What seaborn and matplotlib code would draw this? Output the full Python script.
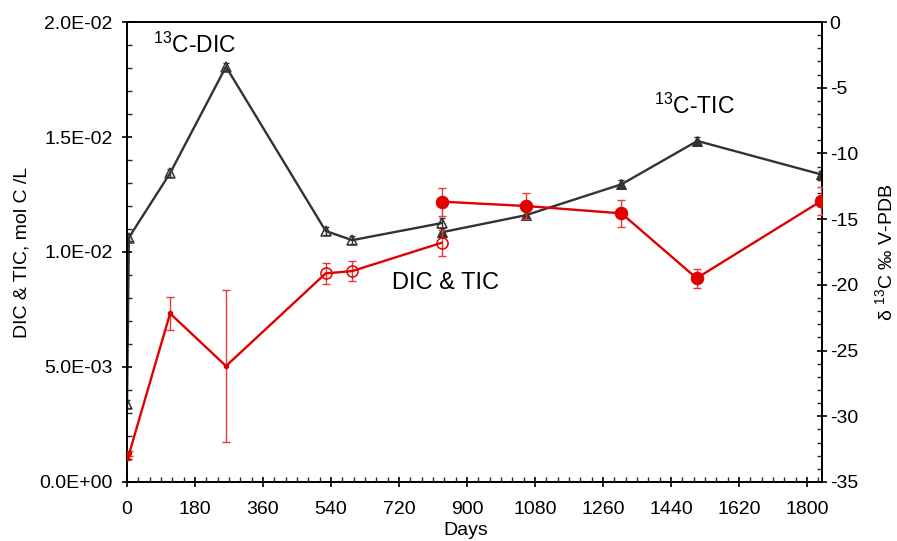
import matplotlib
matplotlib.use("Agg")
import matplotlib.pyplot as plt
import numpy as np
import pandas as pd
import seaborn as sns
from matplotlib.ticker import MultipleLocator, FuncFormatter

# DIC concentration (mol C / L), early sampling campaign
dic_days = [0, 6, 114, 262, 526, 596, 833]
dic_conc = [0.00103, 0.00125, 0.00733, 0.00504, 0.00907, 0.00917, 0.01040]
dic_conc_err = [0.00008, 0.00010, 0.00072, 0.00330, 0.00045, 0.00045, 0.00056]

# TIC concentration (mol C / L), later sampling campaign
tic_days = [833, 1056, 1309, 1508, 1838]
tic_conc = [0.01219, 0.01200, 0.01168, 0.00886, 0.01222]
tic_conc_err = [0.00061, 0.00058, 0.00058, 0.00042, 0.00060]

# delta 13C of DIC and TIC (per mil V-PDB)
d13c_dic_days = [0, 5, 114, 262, 526, 596, 833]
d13c_dic = [-29.1, -16.4, -11.5, -3.4, -15.9, -16.6, -15.3]
d13c_dic_err = [0.3, 0.3, 0.3, 0.3, 0.3, 0.3, 0.4]

d13c_tic_days = [833, 1056, 1309, 1510, 1838]
d13c_tic = [-16.0, -14.7, -12.35, -9.05, -11.6]
d13c_tic_err = [0.3, 0.3, 0.3, 0.3, 0.3]

RED = "#E00000"
RED_ERR = "#E63C3C"
DARK = "#333333"

sns.set_style("ticks")
plt.rcParams["font.family"] = ["Liberation Sans", "DejaVu Sans"]
plt.rcParams["mathtext.fontset"] = "custom"
plt.rcParams["mathtext.rm"] = "Liberation Sans"
plt.rcParams["mathtext.it"] = "Liberation Sans:italic"
plt.rcParams["text.color"] = "black"
plt.rcParams["axes.labelcolor"] = "black"

fig = plt.figure(figsize=(8.97, 5.41), dpi=100)
ax = fig.add_axes([0.1416, 0.1091, 0.7748, 0.8502])
ax2 = ax.twinx()

conc_dic = pd.DataFrame({"day": dic_days, "conc": dic_conc, "err": dic_conc_err})
conc_tic = pd.DataFrame({"day": tic_days, "conc": tic_conc, "err": tic_conc_err})
iso_dic = pd.DataFrame({"day": d13c_dic_days, "d13c": d13c_dic, "err": d13c_dic_err})
iso_tic = pd.DataFrame({"day": d13c_tic_days, "d13c": d13c_tic, "err": d13c_tic_err})

# isotope series on the right axis
ax2.errorbar(iso_dic["day"], iso_dic["d13c"], yerr=iso_dic["err"], fmt="none",
             ecolor=DARK, elinewidth=1, capsize=2.5, zorder=3)
sns.lineplot(data=iso_dic, x="day", y="d13c", ax=ax2, sort=False, estimator=None,
             color=DARK, lw=1.7, marker="^", markersize=6.5, markerfacecolor="none",
             markeredgecolor=DARK, markeredgewidth=1.1, zorder=3)
ax2.errorbar(iso_tic["day"], iso_tic["d13c"], yerr=iso_tic["err"], fmt="none",
             ecolor=DARK, elinewidth=1, capsize=2.5, zorder=3)
sns.lineplot(data=iso_tic, x="day", y="d13c", ax=ax2, sort=False, estimator=None,
             color=DARK, lw=1.7, marker="^", markersize=7.5, markerfacecolor=DARK,
             markeredgecolor=DARK, zorder=3)

# concentration series on the left axis (drawn above the isotope axis)
ax.set_zorder(ax2.get_zorder() + 1)
ax.patch.set_visible(False)
ax.errorbar(conc_dic["day"], conc_dic["conc"], yerr=conc_dic["err"], fmt="none",
            ecolor=RED_ERR, elinewidth=1, capsize=3, zorder=3)
sns.lineplot(data=conc_dic, x="day", y="conc", ax=ax, sort=False, estimator=None,
             color=RED, lw=1.7, zorder=3)
early = conc_dic.iloc[:4]
later = conc_dic.iloc[4:]
ax.plot(early["day"], early["conc"], ls="none", marker="o", markersize=3,
        color=RED, zorder=4)
ax.plot(later["day"], later["conc"], ls="none", marker="o", markersize=8,
        markerfacecolor="none", markeredgecolor=RED, markeredgewidth=1.1, zorder=4)
ax.errorbar(conc_tic["day"], conc_tic["conc"], yerr=conc_tic["err"], fmt="none",
            ecolor=RED_ERR, elinewidth=1, capsize=3, zorder=3)
sns.lineplot(data=conc_tic, x="day", y="conc", ax=ax, sort=False, estimator=None,
             color=RED, lw=1.7, marker="o", markersize=9, markerfacecolor=RED,
             markeredgecolor=RED, zorder=4)

# axes limits and ticks
ax.set_xlim(0, 1840)
ax.set_ylim(0, 0.02)
ax2.set_ylim(-35, 0)
ax.xaxis.set_major_locator(MultipleLocator(180))
ax.xaxis.set_minor_locator(MultipleLocator(30))
ax.yaxis.set_major_locator(MultipleLocator(0.005))
ax.yaxis.set_minor_locator(MultipleLocator(0.001))
ax.yaxis.set_major_formatter(FuncFormatter(lambda v, p: f"{v:.1E}"))
ax2.yaxis.set_major_locator(MultipleLocator(5))
ax2.yaxis.set_minor_locator(MultipleLocator(1))
ax2.yaxis.set_major_formatter(FuncFormatter(lambda v, p: f"{v:.0f}"))

for a in (ax, ax2):
    a.tick_params(which="major", direction="inout", length=7, width=1.2,
                  labelsize=14, colors="black")
    a.tick_params(which="minor", direction="in", length=3.5, width=1)
    for s in a.spines.values():
        s.set_linewidth(1.3)
        s.set_color("black")
ax.tick_params(axis="y", pad=7)
ax2.tick_params(axis="y", pad=2)
ax.tick_params(axis="x", pad=10)

ax.set_xlabel("Days", fontsize=14, labelpad=2)
ax.xaxis.set_label_coords(0.487, -0.088)
ax.set_ylabel("DIC & TIC, mol C /L", fontsize=14, labelpad=6)
ax2.set_ylabel("δ $^{13}$C ‰ V-PDB", fontsize=14, labelpad=12)
ax2.set_xlabel("")

# series annotations
ax2.text(180, -1.8, r"$^{13}$C-DIC", fontsize=16.5, ha="center", va="center")
ax2.text(1503, -6.4, r"$^{13}$C-TIC", fontsize=16.5, ha="center", va="center")
ax.text(842, 0.00865, "DIC & TIC", fontsize=17, ha="center", va="center")

fig.savefig("out.png", dpi=100)
